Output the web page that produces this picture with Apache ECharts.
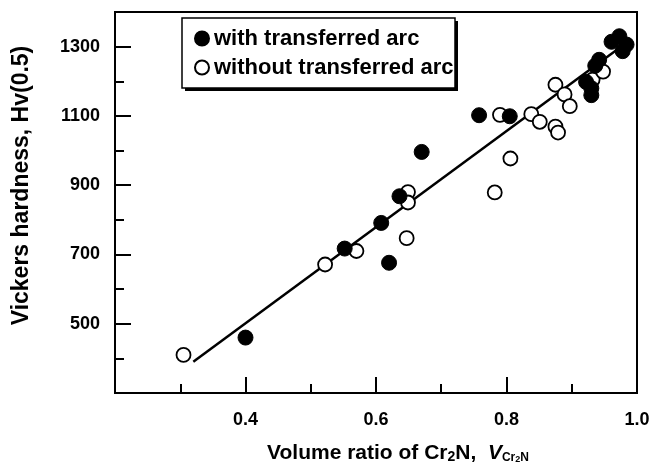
<!DOCTYPE html>
<html>
<head>
<meta charset="utf-8">
<script src="https://cdn.jsdelivr.net/npm/echarts@6/dist/echarts.min.js"></script>
<style>html,body{margin:0;padding:0;background:#fff}#c{width:660px;height:470px}</style>
</head>
<body>
<div id="c"></div>
<script>
// Data
const withArcX = [0.400, 0.552, 0.608, 0.620, 0.636, 0.670, 0.758, 0.805, 0.922, 0.930, 0.930, 0.936, 0.942, 0.961, 0.973, 0.984, 0.978];
const withArcY = [460, 717, 791, 676, 868, 996, 1102, 1099, 1198, 1180, 1160, 1245, 1262, 1314, 1330, 1306, 1287];
const withoutArcX = [0.305, 0.522, 0.570, 0.647, 0.649, 0.649, 0.782, 0.790, 0.806, 0.838, 0.851, 0.875, 0.875, 0.879, 0.889, 0.897, 0.932, 0.948];
const withoutArcY = [410, 671, 710, 747, 880, 850, 879, 1103, 977, 1105, 1083, 1190, 1069, 1052, 1162, 1128, 1205, 1228];
const fitX = [0.32, 0.99];
const fitY = [390, 1320];
const xTicks = [0.2, 0.4, 0.6, 0.8, 1.0];
const yTicks = [300, 500, 700, 900, 1100, 1300];
const seriesNames = ['with transferred arc', 'without transferred arc'];

const zip = (a, b) => a.map((v, i) => [v, b[i]]);
const FONT = 'Liberation Sans';
const chart = echarts.init(document.getElementById('c'), null, {renderer: 'canvas'});
chart.setOption({
  animation: false,
  backgroundColor: '#fff',
  grid: {left: 115, right: 23, top: 12, bottom: 77, show: true, borderColor: '#000', borderWidth: 2},
  graphic: [
    {type: 'rect', z: 90, shape: {x: 185, y: 21, width: 273, height: 70}, style: {fill: '#000'}},
    {type: 'rect', z: 91, shape: {x: 182, y: 18, width: 273, height: 70}, style: {fill: '#fff', stroke: '#000', lineWidth: 1.5}}
  ],
  legend: {
    left: 194, top: 27, orient: 'vertical', z: 100,
    itemWidth: 14, itemHeight: 14, itemGap: 6,
    padding: 0,
    textStyle: {fontFamily: FONT, fontWeight: 'bold', fontSize: 22, lineHeight: 23, color: '#000'},
    data: [{name: seriesNames[0], icon: 'circle'}, {name: seriesNames[1], icon: 'circle'}]
  },
  xAxis: {
    type: 'value', min: xTicks[0], max: xTicks[xTicks.length - 1], interval: 0.2,
    axisLine: {lineStyle: {color: '#000', width: 2}},
    axisTick: {inside: true, length: 16, lineStyle: {color: '#000', width: 2}},
    minorTick: {show: true, splitNumber: 2, length: 9, lineStyle: {color: '#000', width: 2}},
    splitLine: {show: false},
    axisLabel: {showMinLabel: false, margin: 18, fontFamily: FONT, fontWeight: 'bold', fontSize: 18, color: '#000',
      formatter: v => v.toFixed(1)},
    name: '{n|Volume ratio of Cr}{s|2}{n|N,  }{i|V}{ss|Cr}{sss|2}{ss|N}',
    nameLocation: 'middle', nameGap: 50,
    nameTextStyle: {
      padding: [0, 0, 0, 44],
      rich: {
        n: {fontFamily: FONT, fontWeight: 'bold', fontSize: 21, color: '#000'},
        s: {fontFamily: FONT, fontWeight: 'bold', fontSize: 14, color: '#000', padding: [7, 0, 0, 0]},
        i: {fontFamily: FONT, fontWeight: 'bold', fontStyle: 'italic', fontSize: 21, color: '#000'},
        ss: {fontFamily: FONT, fontWeight: 'bold', fontSize: 12, color: '#000', padding: [9, 0, 0, 0]},
        sss: {fontFamily: FONT, fontWeight: 'bold', fontSize: 9, color: '#000', padding: [12, 0, 0, 0]}
      }
    }
  },
  yAxis: {
    type: 'value', min: yTicks[0], max: 1400, interval: 200,
    axisLine: {lineStyle: {color: '#000', width: 2}},
    axisTick: {inside: true, length: 16, lineStyle: {color: '#000', width: 2}},
    minorTick: {show: true, splitNumber: 2, length: 9, lineStyle: {color: '#000', width: 2}},
    splitLine: {show: false},
    axisLabel: {showMinLabel: false, showMaxLabel: false, margin: 15, fontFamily: FONT, fontWeight: 'bold', fontSize: 18, color: '#000',
      formatter: v => (yTicks.indexOf(v) >= 0 ? String(v) : '')},
    name: 'Vickers hardness, Hv(0.5)', nameLocation: 'middle', nameGap: 82, nameRotate: 90,
    nameTextStyle: {fontFamily: FONT, fontWeight: 'bold', fontSize: 23, color: '#000', padding: [0, 0, 0, 34]}
  },
  series: [
    {type: 'line', data: zip(fitX, fitY), symbol: 'none', lineStyle: {color: '#000', width: 2.5}, z: 1, silent: true},
    {name: seriesNames[0], type: 'scatter', data: zip(withArcX, withArcY), symbol: 'circle', symbolSize: 15,
      itemStyle: {color: '#000', borderColor: '#000', borderWidth: 1, opacity: 1}, z: 3},
    {name: seriesNames[1], type: 'scatter', data: zip(withoutArcX, withoutArcY), symbol: 'circle', symbolSize: 14,
      itemStyle: {color: '#fff', borderColor: '#000', borderWidth: 1.8, opacity: 1}, z: 2}
  ]
});
</script>
</body>
</html>
